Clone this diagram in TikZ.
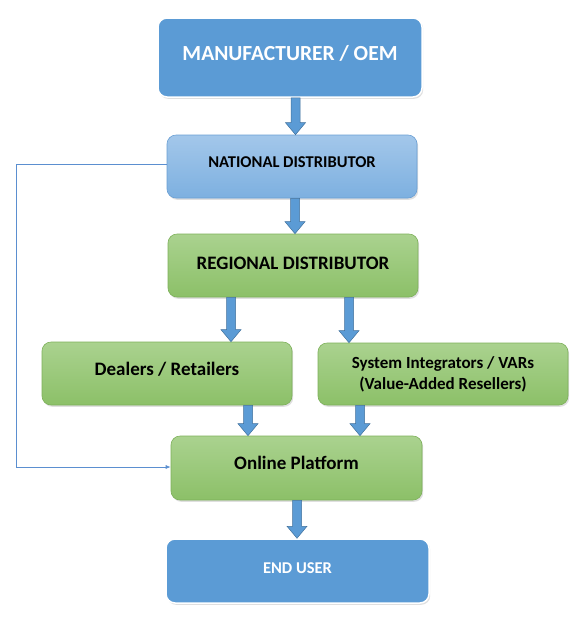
\documentclass[tikz,border=0pt]{standalone}
\usepackage{fontspec}
\setmainfont{Carlito}
\usetikzlibrary{shadows,arrows.meta,calc}
\definecolor{obluefill}{HTML}{5B9BD5}
\definecolor{lbtop}{HTML}{A3C7EA}
\definecolor{lbbot}{HTML}{7DB0E0}
\definecolor{lbborder}{HTML}{6A9FD4}
\definecolor{gtop}{HTML}{AAD28F}
\definecolor{gbot}{HTML}{8CC068}
\definecolor{gborder}{HTML}{7DB05A}
\definecolor{arrfill}{HTML}{5B9BD5}
\definecolor{arrborder}{HTML}{41719C}
\definecolor{fbline}{HTML}{5B8FD0}
\tikzset{
  basebox/.style={rounded corners=9pt, align=center, font=\bfseries, inner sep=0pt,
    drop shadow={opacity=0.25, shadow xshift=1.2pt, shadow yshift=-1.8pt}},
  bluebox/.style={basebox, fill=obluefill, draw=white, line width=1.5pt, text=white},
  lbluebox/.style={basebox, top color=lbtop, bottom color=lbbot, draw=lbborder, line width=0.6pt, text=black},
  greenbox/.style={basebox, top color=gtop, bottom color=gbot, draw=gborder, line width=0.6pt, text=black},
  fbarrow/.style={draw=fbline, line width=0.7pt, -{Latex[length=5pt,width=4pt]}},
  barrowstyle/.style={fill=arrfill, draw=arrborder, line width=0.5pt, line join=miter}
}
\newcommand\blockarrow[2]{%
  \path[barrowstyle] let \p1=(#1), \p2=(#2) in
    (\x1-4.5pt,\y1) -- (\x1+4.5pt,\y1) -- (\x1+4.5pt,\y2+12pt) -- (\x1+10pt,\y2+12pt)
    -- (\x1,\y2) -- (\x1-10pt,\y2+12pt) -- (\x1-4.5pt,\y2+12pt) -- cycle;}
\begin{document}
\begin{tikzpicture}[x=1pt,y=-1pt]
\useasboundingbox[fill=white] (0,0) rectangle (587,625);
\node[bluebox, minimum width=264pt, minimum height=79pt, font=\bfseries\fontsize{21.5}{26}\selectfont] (mfr) at (290,57.5) {\raisebox{9pt}{MANUFACTURER / OEM}};
\node[lbluebox, minimum width=250pt, minimum height=63pt, font=\bfseries\fontsize{16.5}{20}\selectfont] (nat) at (292,166.5) {\raisebox{8.5pt}{NATIONAL DISTRIBUTOR}};
\node[greenbox, minimum width=250pt, minimum height=63pt, font=\bfseries\fontsize{19}{23}\selectfont] (reg) at (293,265.5) {\raisebox{5pt}{REGIONAL DISTRIBUTOR}};
\node[greenbox, minimum width=250pt, minimum height=63pt, font=\bfseries\fontsize{19}{23}\selectfont] (dea) at (167,373.5) {\raisebox{10pt}{Dealers / Retailers}};
\node[greenbox, minimum width=250pt, minimum height=62pt, font=\bfseries\fontsize{17}{21}\selectfont] (sys) at (443,374) {System Integrators / VARs\\(Value-Added Resellers)};
\node[greenbox, minimum width=251pt, minimum height=64pt, font=\bfseries\fontsize{19}{23}\selectfont] (onl) at (296.5,468) {\raisebox{10pt}{Online Platform}};
\node[bluebox, minimum width=263pt, minimum height=64pt, font=\bfseries\fontsize{16.5}{20}\selectfont] (end) at (297.5,571) {\raisebox{6.5pt}{END USER}};
\blockarrow{[xshift=5.5pt]mfr.south}{[xshift=5.5pt]mfr.south |- nat.north}
\blockarrow{[xshift=3pt]nat.south}{[xshift=3pt]nat.south |- reg.north}
\blockarrow{[xshift=-62pt]reg.south}{[xshift=-62pt]reg.south |- dea.north}
\blockarrow{[xshift=56pt]reg.south}{[xshift=56pt]reg.south |- sys.north}
\blockarrow{[xshift=81pt]dea.south}{[xshift=81pt]dea.south |- onl.north}
\blockarrow{[xshift=-83pt]sys.south}{[xshift=-83pt]sys.south |- onl.north}
\blockarrow{[xshift=0.5pt]onl.south}{[xshift=0.5pt]onl.south |- end.north}
\draw[fbarrow] ([yshift=2.5pt]nat.west) -- ++(-150,0) |- ([yshift=1pt]onl.west);
\end{tikzpicture}
\end{document}
